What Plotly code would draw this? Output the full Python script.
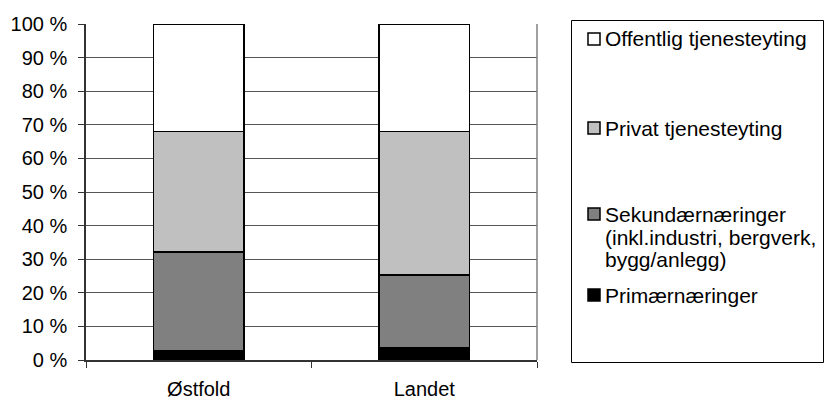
import plotly.graph_objects as go

# Sysselsetting etter næring, andel i prosent
regions = ["Østfold", "Landet"]
primaer = [2.7, 3.5]
sekundaer = [29.5, 21.8]
privat = [35.8, 42.7]
offentlig = [32.0, 32.0]

series = [
    ("Primærnæringer", primaer, "#000000"),
    ("Sekundærnæringer (inkl.industri, bergverk, bygg/anlegg)", sekundaer, "#808080"),
    ("Privat tjenesteyting", privat, "#C0C0C0"),
    ("Offentlig tjenesteyting", offentlig, "#FFFFFF"),
]

FONT = "Liberation Sans, Arial, sans-serif"
FS_AXIS = 20
FS_LEG = 21

# plot area in pixels
W_FIG, H_FIG = 824, 401
L, R, T, B = 86, 537, 24, 360
PW, PH = R - L, B - T


def px(x):
    return (x - L) / PW


def py(y):
    return (B - y) / PH


fig = go.Figure()
for name, vals, col in series:
    fig.add_trace(go.Bar(
        x=regions, y=vals, name=name,
        marker=dict(color=col, line=dict(color="#000000", width=1.5)),
        width=0.4, showlegend=False,
    ))

# legend frame
shapes = [
    dict(type="rect", xref="paper", yref="paper",
         x0=px(571.5), x1=px(823.5), y0=py(20.5), y1=py(362.5),
         line=dict(color="#000000", width=1), fillcolor="rgba(0,0,0,0)", layer="above"),
    # right border of plot area
    dict(type="line", xref="paper", yref="paper", x0=1, x1=1, y0=0, y1=1,
         line=dict(color="#808080", width=1.5), layer="above"),
]

annotations = []
# (lines of text, swatch colour, swatch centre y, text line centres y)
legend_items = [
    (["Offentlig tjenesteyting"], "#FFFFFF", 39, [39]),
    (["Privat tjenesteyting"], "#C0C0C0", 128, [128]),
    (["Sekundærnæringer", "(inkl.industri, bergverk,", "bygg/anlegg)"], "#808080", 214,
     [214, 237, 259]),
    (["Primærnæringer"], "#000000", 295, [295]),
]
for lines, col, ysq, ylines in legend_items:
    shapes.append(dict(type="rect", xref="paper", yref="paper",
                       x0=px(588), x1=px(600), y0=py(ysq + 6), y1=py(ysq - 6),
                       fillcolor=col, line=dict(color="#000000", width=1.5), layer="above"))
    for text, yl in zip(lines, ylines):
        annotations.append(dict(xref="paper", yref="paper", x=px(603), y=py(yl),
                                text=text, showarrow=False, xanchor="left", yanchor="middle",
                                align="left",
                                font=dict(family=FONT, size=FS_LEG, color="#000000")))

fig.update_layout(
    width=W_FIG, height=H_FIG,
    margin=dict(l=L, r=W_FIG - R, t=T, b=H_FIG - B, pad=0, autoexpand=False),
    barmode="stack",
    paper_bgcolor="#FFFFFF", plot_bgcolor="#FFFFFF",
    font=dict(family=FONT, size=FS_AXIS, color="#000000"),
    shapes=shapes, annotations=annotations,
)
fig.update_yaxes(
    range=[0, 100], tickmode="linear", tick0=0, dtick=10, ticksuffix=" %",
    showgrid=True, gridcolor="#555555", gridwidth=1,
    showline=True, linecolor="#333333", linewidth=1.5,
    ticks="outside", ticklen=6, tickcolor="#333333", tickwidth=1,
    ticklabelstandoff=7, zeroline=False, fixedrange=True, automargin=False,
)
fig.update_xaxes(
    showline=True, linecolor="#333333", linewidth=1.5,
    ticks="outside", tickson="boundaries", ticklen=6, tickcolor="#333333",
    ticklabelstandoff=10, showgrid=False, fixedrange=True, automargin=False,
)

fig.write_html("out.html")
